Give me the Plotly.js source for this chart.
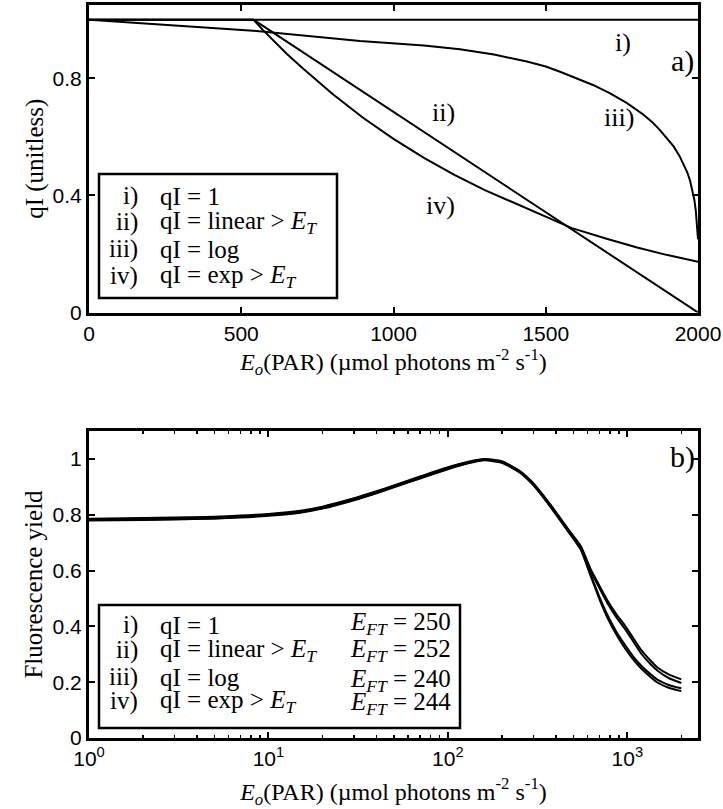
<!DOCTYPE html>
<html><head><meta charset="utf-8">
<script src="https://cdn.plot.ly/plotly-3.0.1.min.js"></script>
<style>html,body{margin:0;padding:0;background:#fff}#chart{width:723px;height:809px}</style>
</head><body><div id="chart"></div>
<script>
// ---------- Panel a : qI vs Eo ----------
const aX_i = [0, 2000];
const aY_i = [1, 1];
const aX_ii = [0, 540, 2000];
const aY_ii = [1, 1, 0];
const aX_iii = [0, 300, 539, 890, 1100, 1218, 1330, 1438, 1500, 1547, 1600, 1655, 1710, 1767, 1820, 1850, 1875, 1900, 1920, 1940, 1955, 1965, 1974, 1982, 1988, 1993, 1997, 2000];
const aY_iii = [1.0, 0.979, 0.962, 0.927, 0.912, 0.899, 0.881, 0.857, 0.840, 0.822, 0.801, 0.777, 0.749, 0.715, 0.676, 0.650, 0.623, 0.594, 0.567, 0.533, 0.503, 0.478, 0.450, 0.418, 0.385, 0.345, 0.295, 0.250];
const aX_iv = [0, 540, 570, 600, 650, 700, 750, 800, 900, 1000, 1100, 1200, 1300, 1400, 1500, 1586, 1700, 1800, 1900, 2000];
const aY_iv = [1, 1, 0.966, 0.934, 0.883, 0.836, 0.790, 0.746, 0.665, 0.593, 0.528, 0.470, 0.418, 0.372, 0.327, 0.288, 0.252, 0.222, 0.196, 0.173];

// ---------- Panel b : fluorescence yield vs Eo (log) ----------
const bE = [1, 2, 3, 5, 7, 10, 15, 20, 30, 40, 50, 70, 100, 130, 160, 200, 250, 300, 380, 470, 550, 630, 700, 780, 870, 970, 1100, 1200, 1350, 1480, 1700, 2000];
const bY_i   = [0.786, 0.788, 0.790, 0.793, 0.797, 0.803, 0.814, 0.829, 0.859, 0.884, 0.905, 0.937, 0.970, 0.990, 1.000, 0.992, 0.958, 0.912, 0.829, 0.747, 0.688, 0.600, 0.545, 0.490, 0.443, 0.403, 0.350, 0.314, 0.277, 0.252, 0.228, 0.210];
const bY_ii  = [0.784, 0.786, 0.788, 0.791, 0.795, 0.801, 0.812, 0.827, 0.857, 0.882, 0.903, 0.935, 0.968, 0.988, 0.999, 0.990, 0.956, 0.910, 0.827, 0.745, 0.685, 0.594, 0.537, 0.480, 0.432, 0.391, 0.338, 0.301, 0.264, 0.240, 0.215, 0.197];
const bY_iii = [0.781, 0.783, 0.785, 0.788, 0.792, 0.798, 0.809, 0.824, 0.854, 0.879, 0.900, 0.932, 0.965, 0.986, 0.997, 0.988, 0.954, 0.907, 0.823, 0.740, 0.678, 0.580, 0.505, 0.437, 0.380, 0.334, 0.285, 0.258, 0.228, 0.208, 0.190, 0.178];
const bY_iv  = [0.779, 0.781, 0.783, 0.786, 0.790, 0.796, 0.807, 0.822, 0.852, 0.877, 0.898, 0.930, 0.963, 0.984, 0.995, 0.986, 0.952, 0.905, 0.821, 0.738, 0.675, 0.574, 0.497, 0.427, 0.370, 0.322, 0.275, 0.248, 0.218, 0.198, 0.180, 0.168];

// ---------- Text ----------
const curveNums = ['i)', 'ii)', 'iii)', 'iv)'];
const curveFormulas = ['qI = 1', 'qI = linear &gt; <i>E<sub>T</sub></i>', 'qI = log', 'qI = exp &gt; <i>E<sub>T</sub></i>'];
const eftValues = [250, 252, 240, 244];
const aXTicks = [0, 500, 1000, 1500, 2000];
const aYTicks = [0, 0.4, 0.8];
const bYTicks = [0, 0.2, 0.4, 0.6, 0.8, 1];
const bXTicks = [1, 10, 100, 1000];
const bXTickText = ['10<sup>0</sup>', '10<sup>1</sup>', '10<sup>2</sup>', '10<sup>3</sup>'];
const xTitle = '<i>E<sub>o</sub></i>(PAR) (µmol photons m<sup>-2</sup> s<sup>-1</sup>)';

const SERIF = 'Liberation Serif, Times New Roman, serif';
const SANS = 'Liberation Sans, Arial, sans-serif';

// pixel -> domain helpers (layout only)
const W = 723, H = 809;
const L = 89, R = 25, T = 5, B = 71;
const aTop = 5, aBot = 312.5, bTop = 431, bBot = 738;
const fx = px => (px - L) / (W - L - R);
const fyA = py => (aBot - py) / (aBot - aTop);
const fyB = py => (bBot - py) / (bBot - bTop);
const areaH = H - T - B;

const lineA = {color: 'black', width: 2};
const lineB = {color: 'black', width: 2, shape: 'spline', smoothing: 0.5};
const traces = [
  {x: aX_i, y: aY_i, xaxis: 'x', yaxis: 'y', mode: 'lines', line: lineA, name: 'i'},
  {x: aX_ii, y: aY_ii, xaxis: 'x', yaxis: 'y', mode: 'lines', line: lineA, name: 'ii'},
  {x: aX_iii, y: aY_iii, xaxis: 'x', yaxis: 'y', mode: 'lines', line: lineA, name: 'iii'},
  {x: aX_iv, y: aY_iv, xaxis: 'x', yaxis: 'y', mode: 'lines', line: lineA, name: 'iv'},
  {x: bE, y: bY_i, xaxis: 'x2', yaxis: 'y2', mode: 'lines', name: 'i', line: lineB},
  {x: bE, y: bY_ii, xaxis: 'x2', yaxis: 'y2', mode: 'lines', name: 'ii', line: lineB},
  {x: bE, y: bY_iii, xaxis: 'x2', yaxis: 'y2', mode: 'lines', name: 'iii', line: lineB},
  {x: bE, y: bY_iv, xaxis: 'x2', yaxis: 'y2', mode: 'lines', name: 'iv', line: lineB}
];

const axisCommon = {
  showline: true, linecolor: 'black', linewidth: 3, mirror: 'ticks',
  ticks: 'inside', ticklen: 6, tickwidth: 2, tickcolor: 'black',
  showgrid: false, zeroline: false,
  tickfont: {family: SANS, size: 21, color: 'black'}
};

const LEG = 25;
const annotations = [];
function addLegend(xr, yr, fy, yNum, yEft) {
  curveNums.forEach((t, i) => {
    annotations.push({xref: xr, yref: yr, x: fx(140), y: fy(yNum[i]), xanchor: 'right', yanchor: 'middle', text: t, showarrow: false, font: {family: SERIF, size: LEG, color: 'black'}});
    annotations.push({xref: xr, yref: yr, x: fx(158), y: fy(yNum[i]), xanchor: 'left', yanchor: 'middle', text: curveFormulas[i], showarrow: false, font: {family: SERIF, size: LEG, color: 'black'}});
    if (yEft) annotations.push({xref: xr, yref: yr, x: fx(348), y: fy(yEft[i]), xanchor: 'left', yanchor: 'middle', text: '<i>E<sub>FT</sub></i> = ' + eftValues[i], showarrow: false, font: {family: SERIF, size: LEG, color: 'black'}});
  });
}
addLegend('x domain', 'y domain', fyA, [196, 222, 249, 276], null);
addLegend('x2 domain', 'y2 domain', fyB, [625, 650, 677, 701], [623, 650, 680, 703]);

const inPlot = [
  ['i)', 623, 43, 26], ['ii)', 443, 112, 26], ['iii)', 619, 117, 26], ['iv)', 440, 205, 26], ['a)', 682, 61, 30]
];
inPlot.forEach(([t, px, py, s]) => annotations.push({xref: 'x domain', yref: 'y domain', x: fx(px), y: fyA(py), xanchor: 'center', yanchor: 'middle', text: t, showarrow: false, font: {family: SERIF, size: s, color: 'black'}}));
annotations.push({xref: 'x2 domain', yref: 'y2 domain', x: fx(682), y: fyB(457), xanchor: 'center', yanchor: 'middle', text: 'b)', showarrow: false, font: {family: SERIF, size: 30, color: 'black'}});

const shapes = [
  {type: 'rect', xref: 'x domain', yref: 'y domain', x0: fx(99), x1: fx(337), y0: fyA(298), y1: fyA(174), line: {color: 'black', width: 2.5}, fillcolor: 'white', layer: 'above'},
  {type: 'rect', xref: 'x2 domain', yref: 'y2 domain', x0: fx(99), x1: fx(460), y0: fyB(728), y1: fyB(605), line: {color: 'black', width: 2.5}, fillcolor: 'white', layer: 'above'}
];

const layout = {
  width: W, height: H,
  margin: {l: L, r: R, t: T, b: B},
  paper_bgcolor: 'white', plot_bgcolor: 'white',
  showlegend: false,
  font: {family: SERIF, color: 'black'},
  xaxis: Object.assign({}, axisCommon, {domain: [0, 1], anchor: 'y', range: [0, 2000], tickvals: aXTicks,
    title: {text: xTitle, font: {family: SERIF, size: 24, color: 'black'}, standoff: 5}}),
  yaxis: Object.assign({}, axisCommon, {domain: [1 - (aBot - T) / areaH, 1], anchor: 'x', range: [0, 1.05], tickvals: aYTicks,
    title: {text: 'qI (unitless)', font: {family: SERIF, size: 25, color: 'black'}, standoff: 2}}),
  xaxis2: Object.assign({}, axisCommon, {domain: [0, 1], anchor: 'y2', type: 'log', range: [0, Math.log10(2477)], tickvals: bXTicks, ticktext: bXTickText,
    minor: {ticks: 'inside', ticklen: 3, tickwidth: 1.5, tickcolor: 'black', dtick: 'D1', showgrid: false},
    title: {text: xTitle, font: {family: SERIF, size: 24, color: 'black'}, standoff: 14}}),
  yaxis2: Object.assign({}, axisCommon, {domain: [0, (bBot - bTop) / areaH], anchor: 'x2', range: [0, 1.1], tickvals: bYTicks,
    title: {text: 'Fluorescence yield', font: {family: SERIF, size: 25, color: 'black'}, standoff: 3}}),
  annotations, shapes
};

Plotly.newPlot('chart', traces, layout, {staticPlot: true, displayModeBar: false});
</script>
</body></html>
